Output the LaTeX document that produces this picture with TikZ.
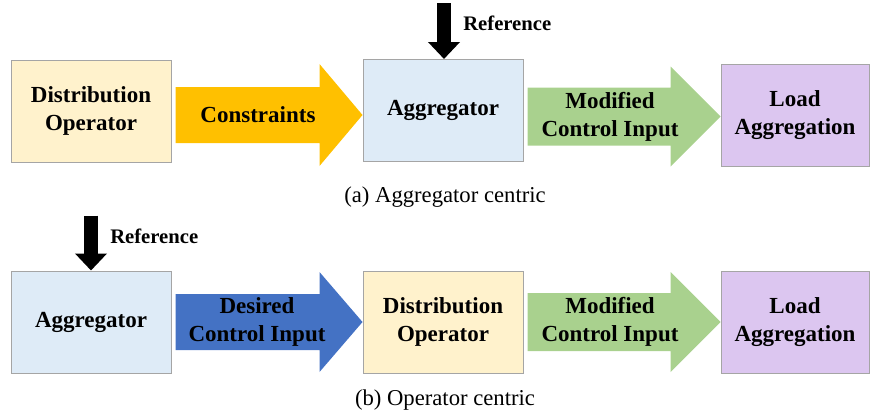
\documentclass[tikz,border=0pt]{standalone}
\usepackage{fontspec}
\setmainfont{Liberation Serif}
\usepackage[HTML]{xcolor}
\usetikzlibrary{positioning, calc, arrows.meta}

\definecolor{opyellow}{HTML}{FFF2CC}
\definecolor{aggblue}{HTML}{DEEBF7}
\definecolor{loadpurple}{HTML}{DCC6F0}
\definecolor{boxgray}{HTML}{A5A5A5}
\definecolor{consorange}{HTML}{FFC000}
\definecolor{modgreen}{HTML}{A9D18E}
\definecolor{desblue}{HTML}{4472C4}

\tikzset{
  block/.style={draw=boxgray, line width=0.75pt, minimum width=120pt, minimum height=76.5pt,
    inner sep=0pt, align=center, font=\fontsize{17.25}{21}\selectfont\bfseries},
  flowtext/.style={inner sep=0pt, align=center, font=\fontsize{17.25}{21}\selectfont\bfseries},
  refarrow/.style={line width=10.5pt, -{Triangle[width=23.25pt,length=12.75pt]}},
  reflabel/.style={inner sep=0pt, anchor=west, font=\fontsize{15.5}{18}\selectfont\bfseries},
  caption/.style={inner sep=0pt, font=\fontsize{17}{20}\selectfont}
}

\begin{document}
\begin{tikzpicture}[x=0.75pt,y=-0.75pt]
\useasboundingbox (0,0) rectangle (870,414);

% (a) aggregator centric
\node[block, fill=opyellow] (dist1) at (91,111) {Distribution\\Operator};
\node[block, fill=aggblue] (agg1) at (443,110.5) {Aggregator};
\node[block, fill=loadpurple, minimum width=111pt] (load1) at (795,115) {Load\\Aggregation};

% block arrows, label centres first
\coordinate (cons) at (258,115);
\coordinate (mod1) at (610,116.5);
\fill[consorange] ($(dist1.east |- cons)+(4,-28)$) -- ($(agg1.west |- cons)+(-43,-28)$)
  -- ($(agg1.west |- cons)+(-43,-51)$) -- (agg1.west |- cons)
  -- ($(agg1.west |- cons)+(-43,51)$) -- ($(agg1.west |- cons)+(-43,28)$)
  -- ($(dist1.east |- cons)+(4,28)$) -- cycle;
\fill[modgreen] ($(agg1.east |- mod1)+(4,-29)$) -- ($(load1.west |- mod1)+(-50,-29)$)
  -- ($(load1.west |- mod1)+(-50,-50)$) -- (load1.west |- mod1)
  -- ($(load1.west |- mod1)+(-50,50)$) -- ($(load1.west |- mod1)+(-50,29)$)
  -- ($(agg1.east |- mod1)+(4,29)$) -- cycle;
\node[flowtext] (constext) at (cons) {Constraints};
\node[flowtext] (mod1text) at (mod1) {Modified\\Control Input};

% reference input
\coordinate (ref1) at ($(agg1.north)+(1,-56)$);
\draw[refarrow] (ref1) -- (ref1 |- agg1.north);
\node[reflabel] (reflab1) at ($(ref1)+(19,20)$) {Reference};

\node[caption] (capa) at (445,197) {(a) Aggregator centric};

% (b) operator centric
\node[block, fill=aggblue] (agg2) at (91,322) {Aggregator};
\node[block, fill=opyellow] (dist2) at (443,322) {Distribution\\Operator};
\node[block, fill=loadpurple, minimum width=111pt] (load2) at (795,322) {Load\\Aggregation};

\coordinate (des) at (257,322);
\coordinate (mod2) at (610,322);
\fill[desblue] ($(agg2.east |- des)+(4,-28)$) -- ($(dist2.west |- des)+(-43,-28)$)
  -- ($(dist2.west |- des)+(-43,-50)$) -- (dist2.west |- des)
  -- ($(dist2.west |- des)+(-43,50)$) -- ($(dist2.west |- des)+(-43,28)$)
  -- ($(agg2.east |- des)+(4,28)$) -- cycle;
\fill[modgreen] ($(dist2.east |- mod2)+(4,-29)$) -- ($(load2.west |- mod2)+(-50,-29)$)
  -- ($(load2.west |- mod2)+(-50,-50)$) -- (load2.west |- mod2)
  -- ($(load2.west |- mod2)+(-50,50)$) -- ($(load2.west |- mod2)+(-50,29)$)
  -- ($(dist2.east |- mod2)+(4,29)$) -- cycle;
\node[flowtext] (destext) at (des) {Desired\\Control Input};
\node[flowtext] (mod2text) at (mod2) {Modified\\Control Input};

\coordinate (ref2) at ($(agg2.north)+(0,-55)$);
\draw[refarrow] (ref2) -- (agg2.north);
\node[reflabel] (reflab2) at ($(ref2)+(19,21)$) {Reference};

\node[caption] (capb) at (445,400) {(b) Operator centric};
\end{tikzpicture}
\end{document}
